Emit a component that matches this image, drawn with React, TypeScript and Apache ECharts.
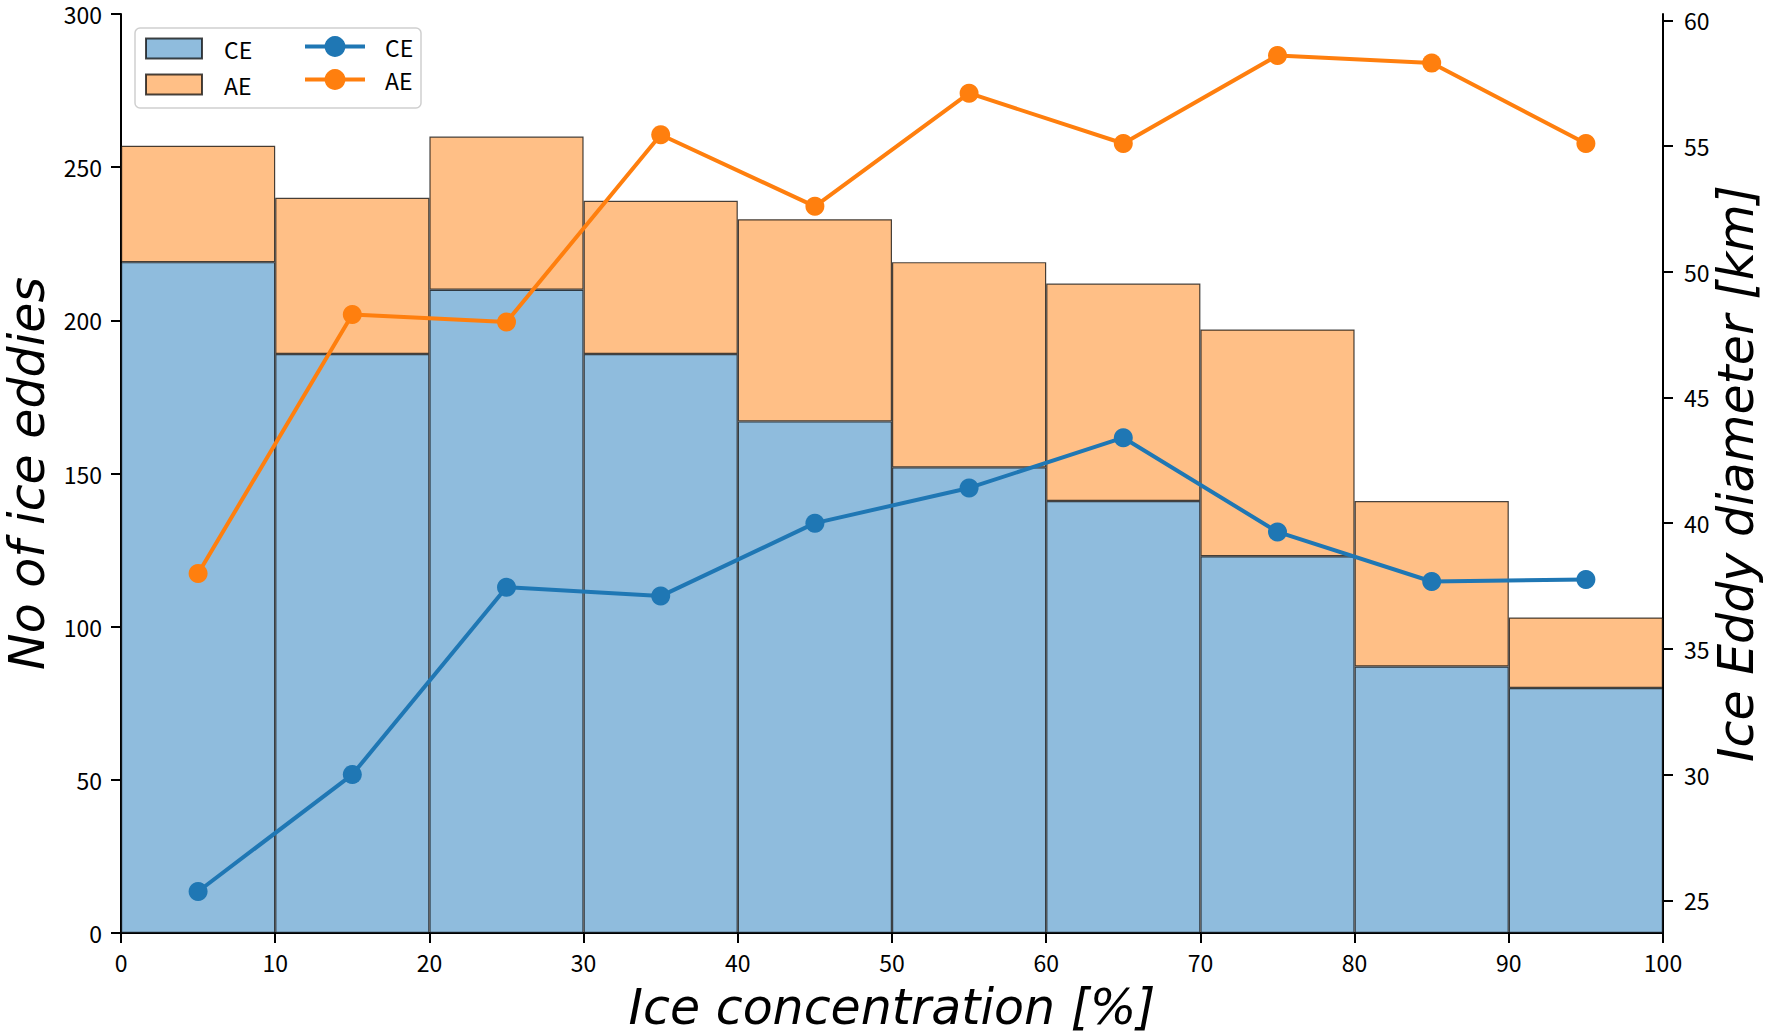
import React, { useEffect, useRef } from "react";
import * as echarts from "echarts";

const binCenters = [5, 15, 25, 35, 45, 55, 65, 75, 85, 95];
const binLabels = ["0-10", "10-20", "20-30", "30-40", "40-50", "50-60", "60-70", "70-80", "80-90", "90-100"];
const ceCounts = [219, 189, 210, 189, 167, 152, 141, 123, 87, 80];
const aeCounts = [38, 51, 50, 50, 66, 67, 71, 74, 54, 23];
const ceDiameter = [25.35, 30.0, 37.45, 37.1, 40.0, 41.4, 43.4, 39.65, 37.68, 37.76];
const aeDiameter = [38.0, 48.3, 48.0, 55.45, 52.6, 57.1, 55.1, 58.6, 58.3, 55.1];
const diameterTicks = [25, 30, 35, 40, 45, 50, 55, 60];

const TICK_FONT = "'Noto Sans CJK JP', 'Noto Sans', sans-serif";
const TITLE_FONT = "'DejaVu Sans', 'Noto Sans', sans-serif";

export default function App() {
  const ref = useRef<HTMLDivElement>(null);

  useEffect(() => {
    if (!ref.current) return;
    const chart = echarts.init(ref.current, null, { renderer: "svg" });
    const labelStyle = { fontFamily: TICK_FONT, fontSize: 23, color: "#000" };
    const nameStyle = { fontFamily: TITLE_FONT, fontSize: 49, fontStyle: "italic", color: "#000", lineHeight: 40 };
    const axisLine = { show: true, onZero: false, lineStyle: { color: "#000", width: 2 } };
    const axisTick = { show: true, inside: false, length: 10, lineStyle: { color: "#000", width: 2 } };
    const fmt = (name: string) => name.split(" ")[0];
    const edge = "rgba(0,0,0,0.72)";

    chart.setOption({
      animation: false,
      backgroundColor: "#fff",
      grid: { left: 121, right: 109, top: 14, bottom: 99, containLabel: false, outerBoundsMode: "none" },
      xAxis: [
        {
          type: "value",
          min: 0,
          max: 100,
          interval: 10,
          position: "bottom",
          axisLine,
          axisTick,
          splitLine: { show: false },
          axisLabel: { ...labelStyle, margin: 17 },
          name: "Ice concentration [%]",
          nameLocation: "middle",
          nameGap: 54,
          nameMoveOverlap: false,
          nameTextStyle: nameStyle,
        },
        {
          type: "category",
          data: binLabels,
          show: false,
          boundaryGap: true,
        },
      ],
      yAxis: [
        {
          type: "value",
          min: 0,
          max: 300,
          interval: 50,
          position: "left",
          axisLine,
          axisTick,
          splitLine: { show: false },
          axisLabel: { ...labelStyle, margin: 19, lineHeight: 20 },
          name: "No of ice eddies",
          nameLocation: "middle",
          nameGap: 74,
          nameRotate: 90,
          nameMoveOverlap: false,
          nameTextStyle: nameStyle,
        },
        {
          type: "value",
          min: 23.7,
          max: 60.25,
          position: "right",
          axisLine,
          axisTick: { ...axisTick, customValues: diameterTicks },
          splitLine: { show: false },
          axisLabel: { ...labelStyle, margin: 21, lineHeight: 20, customValues: diameterTicks },
          name: "Ice Eddy diameter [km]",
          nameLocation: "middle",
          nameGap: 53,
          nameRotate: 90,
          nameMoveOverlap: false,
          nameTextStyle: nameStyle,
        },
      ],
      legend: [
        {
          left: 145,
          top: 37,
          padding: 0,
          orient: "vertical",
          itemWidth: 56,
          itemHeight: 20,
          itemGap: 13,
          selectedMode: false,
          z: 5,
          formatter: fmt,
          textStyle: { ...labelStyle, padding: [0, 0, 0, 17] },
          data: [
            { name: "CE count", icon: "rect" },
            { name: "AE count", icon: "rect" },
          ],
        },
        {
          left: 303,
          top: 35,
          padding: 0,
          orient: "vertical",
          itemWidth: 60,
          itemHeight: 26,
          itemGap: 10,
          selectedMode: false,
          z: 5,
          formatter: fmt,
          lineStyle: { width: 4 },
          textStyle: { ...labelStyle, padding: [0, 0, 0, 15] },
          data: [{ name: "CE diameter" }, { name: "AE diameter" }],
        },
      ],
      graphic: [
        {
          type: "rect",
          z: 3,
          shape: { x: 135, y: 28, width: 286, height: 80, r: 5 },
          style: { fill: "rgba(255,255,255,0.85)", stroke: "#cfcfcf", lineWidth: 1.5 },
        },
      ],
      series: [
        {
          name: "CE count",
          type: "bar",
          xAxisIndex: 1,
          yAxisIndex: 0,
          stack: "count",
          barCategoryGap: "0%",
          data: ceCounts,
          itemStyle: { color: "#8fbcdd", borderColor: edge, borderWidth: 1.2 },
        },
        {
          name: "AE count",
          type: "bar",
          xAxisIndex: 1,
          yAxisIndex: 0,
          stack: "count",
          barCategoryGap: "0%",
          data: aeCounts,
          itemStyle: { color: "#ffbf86", borderColor: edge, borderWidth: 1.2 },
        },
        {
          name: "CE diameter",
          type: "line",
          xAxisIndex: 0,
          yAxisIndex: 1,
          data: binCenters.map((x, i) => [x, ceDiameter[i]]),
          symbol: "circle",
          symbolSize: 19,
          lineStyle: { color: "#1f77b4", width: 4 },
          itemStyle: { color: "#1f77b4" },
          z: 4,
        },
        {
          name: "AE diameter",
          type: "line",
          xAxisIndex: 0,
          yAxisIndex: 1,
          data: binCenters.map((x, i) => [x, aeDiameter[i]]),
          symbol: "circle",
          symbolSize: 19,
          lineStyle: { color: "#ff7f0e", width: 4 },
          itemStyle: { color: "#ff7f0e" },
          z: 4,
        },
      ],
    });

    return () => chart.dispose();
  }, []);

  return (
    <div
      ref={ref}
      style={{ position: "absolute", left: 0, top: 0, width: 1772, height: 1032 }}
    />
  );
}
